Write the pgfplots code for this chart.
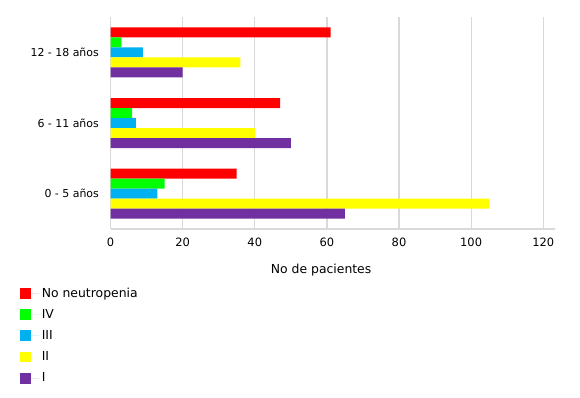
\documentclass[border=0pt]{standalone}
\usepackage{fontspec}
\setmainfont{DejaVu Sans}
\usepackage{pgfplots}
\pgfplotsset{compat=1.18}
\definecolor{cRed}{HTML}{FF0000}
\definecolor{cGreen}{HTML}{00FF00}
\definecolor{cBlue}{HTML}{00B0F0}
\definecolor{cYellow}{HTML}{FFFF00}
\definecolor{cPurple}{HTML}{7030A0}
\definecolor{cGrid}{HTML}{D9D9D9}
\begin{document}
\begin{tikzpicture}[font=\fontsize{8.6pt}{10pt}\selectfont]
\useasboundingbox (-82.9pt,-126pt) rectangle (352.1pt,171.75pt);
\begin{axis}[
  at={(0,0)}, anchor=south west,
  scale only axis,
  width=333.2pt, height=159pt,
  xbar, bar width=7.5pt,
  xmin=0, xmax=123.2,
  ymin=-0.5, ymax=2.5,
  xtick={0,20,...,120},
  ytick={0,1,2},
  yticklabels={0 - 5 años, 6 - 11 años, 12 - 18 años},
  /pgf/number format/assume math mode=true,
  axis x line*=bottom, axis y line*=left,
  axis line style={cGrid, line width=0.9pt, -},
  xmajorgrids, grid style={cGrid, line width=0.9pt},
  major tick length=0pt,
  tick label style={black},
  xticklabel style={yshift=-3pt},
  yticklabel style={xshift=-5.25pt, font=\fontsize{8.2pt}{10pt}\selectfont},
  xlabel={No de pacientes},
  xlabel style={at={(axis description cs:0.474,-0.193)}, anchor=center, font=\fontsize{9.3pt}{11pt}\selectfont},
  legend style={at={(axis description cs:-0.213,-0.25)}, anchor=north west,
    draw=none, fill=none, row sep=3.6pt, font=\fontsize{9.3pt}{11pt}\selectfont,
    /tikz/every even column/.append style={column sep=0pt}},
  legend cell align=left,
  legend image code/.code={\fill[#1,draw=none] (0pt,-4.1pt) rectangle (8.25pt,4.1pt); \path (0pt,0pt) -- (14.25pt,0pt);},
]
\addplot[fill=cRed, draw=none, bar shift=15pt] coordinates {(35,0) (47,1) (61,2)};
\addplot[fill=cGreen, draw=none, bar shift=7.5pt] coordinates {(15,0) (6,1) (3,2)};
\addplot[fill=cBlue, draw=none, bar shift=0pt] coordinates {(13,0) (7,1) (9,2)};
\addplot[fill=cYellow, draw=none, bar shift=-7.5pt] coordinates {(105,0) (40,1) (36,2)};
\addplot[fill=cPurple, draw=none, bar shift=-15pt] coordinates {(65,0) (50,1) (20,2)};
\legend{No neutropenia, IV, III, II, I}
\end{axis}
\end{tikzpicture}
\end{document}
